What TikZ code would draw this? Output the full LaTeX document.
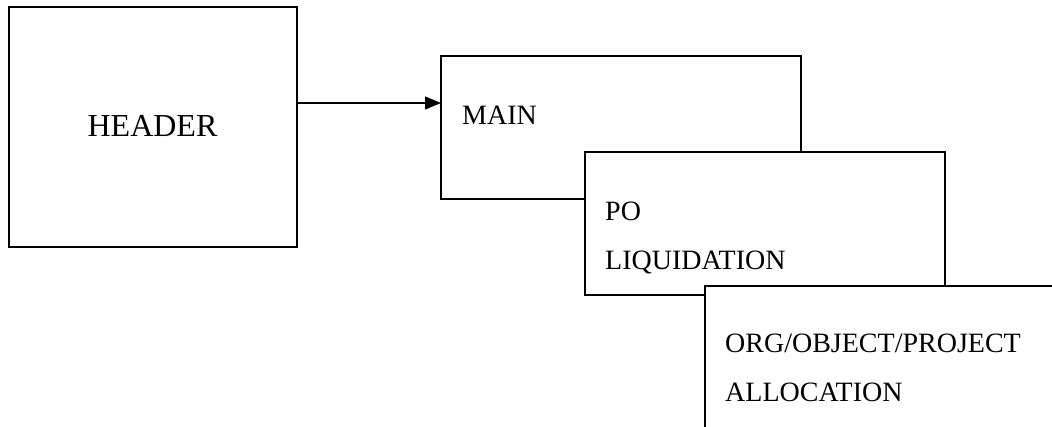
\documentclass[tikz,border=0pt]{standalone}
\usepackage{fontspec}
\setmainfont{Liberation Serif}
\usetikzlibrary{arrows.meta}
\begin{document}
\begin{tikzpicture}[x=1pt,y=-1pt,
  box/.style={draw,line width=1.3pt,fill=white,rectangle,inner sep=0pt,outer sep=0pt,
    minimum width=360pt,minimum height=143pt},
  lbl/.style={anchor=base west,inner sep=0pt,font=\fontsize{28}{34}\selectfont},
  conn/.style={line width=1.3pt,-{Triangle[length=16pt,width=13pt]}}]
\useasboundingbox (0,0) rectangle (1052,427);
\clip (0,0) rectangle (1052,427);
\node[box,minimum width=288pt,minimum height=240pt] (header) at (153,127) {};
\node[anchor=base,inner sep=0pt,font=\fontsize{32}{38}\selectfont] (htext) at (152.5,137) {HEADER};
\node[box] (main) at (621,127.5) {};
\node[lbl] (mtext) at (462,125) {MAIN};
\node[box] (po) at (765,223.5) {};
\node[lbl] (potext1) at (605,221) {PO};
\node[lbl] (potext2) at (605,270) {LIQUIDATION};
\node[box] (org) at (885,357.5) {};
\node[lbl] (otext1) at (725,353) {ORG/OBJECT/PROJECT};
\node[lbl] (otext2) at (725,402) {ALLOCATION};
\coordinate (astart) at (header.east |- 0,103);
\draw[conn] (astart) -- (main.west |- astart);
\end{tikzpicture}
\end{document}
